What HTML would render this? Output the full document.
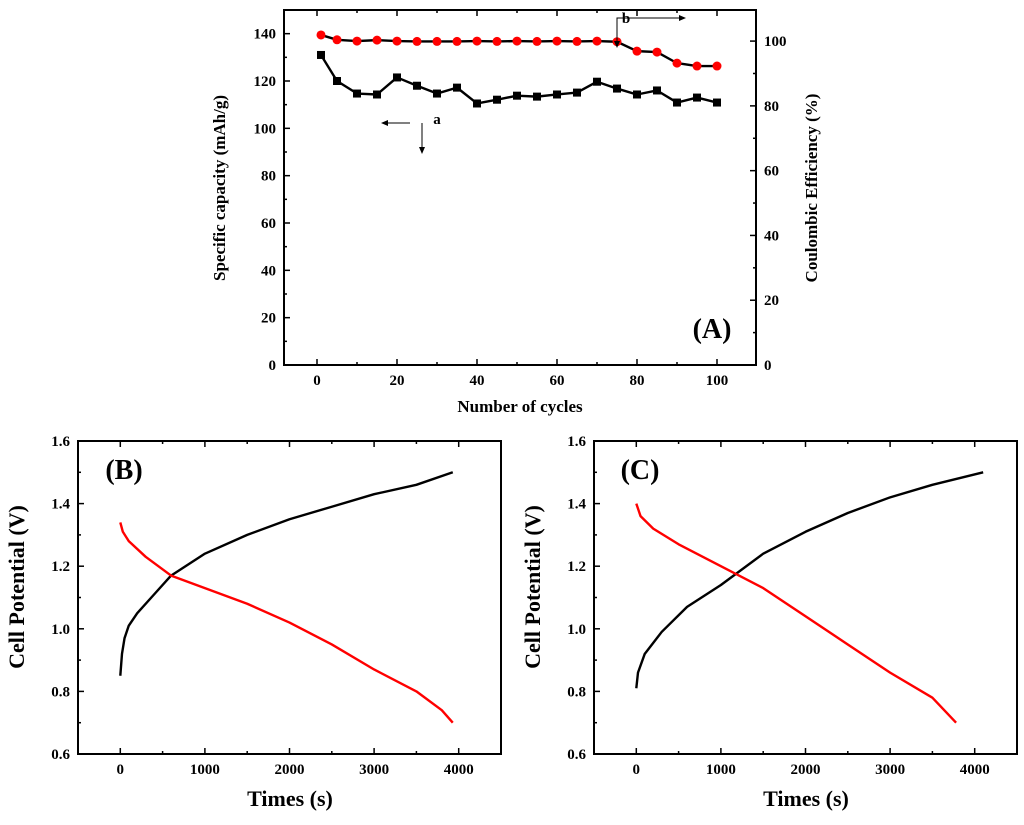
<!DOCTYPE html>
<html><head><meta charset="utf-8"><style>
body{margin:0;background:#fff;width:1024px;height:820px;overflow:hidden}
svg text{font-family:"Liberation Serif",serif;font-weight:bold;fill:#000}
</style></head><body>
<svg id="s" width="1024" height="820"></svg>
<script>
const cyclesA=[1,5,10,15,20,25,30,35,40,45,50,55,60,65,70,75,80,85,90,95,100];
const capacityA=[131,120,114.7,114.3,121.5,118,114.7,117.2,110.5,112.1,113.8,113.4,114.3,115.1,119.7,116.8,114.3,116,110.9,113,110.9];
const efficiencyA=[101.9,100.4,100,100.3,100,99.9,99.9,99.9,100,99.9,100,99.9,100,99.9,100,99.8,96.9,96.6,93.2,92.3,92.3];
const bChargeT=[0,20,50,100,200,400,600,1000,1500,2000,2500,3000,3500,3930];
const bChargeV=[0.85,0.92,0.97,1.01,1.05,1.11,1.17,1.24,1.30,1.35,1.39,1.43,1.46,1.50];
const bDisT=[0,30,100,300,600,1000,1500,2000,2500,3000,3500,3800,3930];
const bDisV=[1.34,1.31,1.28,1.23,1.17,1.13,1.08,1.02,0.95,0.87,0.80,0.74,0.70];
const cChargeT=[0,20,100,300,600,1000,1500,2000,2500,3000,3500,4100];
const cChargeV=[0.81,0.86,0.92,0.99,1.07,1.14,1.24,1.31,1.37,1.42,1.46,1.50];
const cDisT=[0,50,200,500,1000,1500,2000,2500,3000,3500,3780];
const cDisV=[1.40,1.36,1.32,1.27,1.20,1.13,1.04,0.95,0.86,0.78,0.70];
const xTicksA=[0,20,40,60,80,100];
const yTicksA=[0,20,40,60,80,100,120,140];
const yTicksAR=[0,20,40,60,80,100];
const xTicksBC=[0,1000,2000,3000,4000];
const yTicksBC=[0.6,0.8,1.0,1.2,1.4,1.6];

const S=document.getElementById('s');const NS='http://www.w3.org/2000/svg';
function el(t,a,p){const e=document.createElementNS(NS,t);for(const k in a)e.setAttribute(k,a[k]);(p||S).appendChild(e);return e;}
function txt(x,y,s,sz,anchor,rot,name){const e=el('text',{x:x,y:y,'font-size':sz,'text-anchor':anchor||'middle'});if(rot)e.setAttribute('transform','rotate(-90 '+x+' '+y+')');e.textContent=s;


return e;}
function scale(d0,d1,r0,r1){return v=>r0+(v-d0)/(d1-d0)*(r1-r0);}
function box(x0,y0,x1,y1,name){const r=el('rect',{x:x0,y:y0,width:x1-x0,height:y1-y0,fill:'none',stroke:'#000','stroke-width':2});

}
function xaxis(ticks,sx,y0,y1,fmt,name){ticks.forEach((t,i)=>{const x=sx(t);el('line',{x1:x,x2:x,y1:y1,y2:y1-6,stroke:'#000','stroke-width':1.5});el('line',{x1:x,x2:x,y1:y0,y2:y0+6,stroke:'#000','stroke-width':1.5});
txt(x,y1+20,fmt(t),15,'middle',0,name);
if(i<ticks.length-1){const xm=sx((t+ticks[i+1])/2);el('line',{x1:xm,x2:xm,y1:y1,y2:y1-3,stroke:'#000','stroke-width':1.5});el('line',{x1:xm,x2:xm,y1:y0,y2:y0+3,stroke:'#000','stroke-width':1.5});}});}
function yaxis(ticks,sy,x,dir,fmt,name){ticks.forEach((t,i)=>{const y=sy(t);el('line',{x1:x,x2:x+6*dir,y1:y,y2:y,stroke:'#000','stroke-width':1.5});
txt(dir>0?x-8:x+8,y+5,fmt(t),15,dir>0?'end':'start',0,name);
if(i<ticks.length-1){const ym=sy((t+ticks[i+1])/2);el('line',{x1:x,x2:x+3*dir,y1:ym,y2:ym,stroke:'#000','stroke-width':1.5});}});}
function line(xs,ys,sx,sy,col,name){const p=el('polyline',{points:xs.map((v,i)=>sx(v)+','+sy(ys[i])).join(' '),fill:'none',stroke:col,'stroke-width':2.4,'stroke-linejoin':'round'});

}

// Panel A
const ax=scale(-8.25,109.75,284,756), ayL=scale(0,150,365,10), ayR=scale(0,109.6,365,10);
box(284,10,756,365,'panel-a-frame');
xaxis(xTicksA,ax,10,365,String,'x-tick-label-a');
yaxis(yTicksA,ayL,284,1,String,'y-tick-label-a-left');
yaxis(yTicksAR,ayR,756,-1,String,'y-tick-label-a-right');
line(cyclesA,capacityA,ax,ayL,'#000','capacity-line');
line(cyclesA,efficiencyA,ax,ayR,'#000','efficiency-line');
cyclesA.forEach((c,i)=>{const r=el('rect',{x:ax(c)-4,y:ayL(capacityA[i])-4,width:8,height:8,fill:'#000'});


const ci=el('circle',{cx:ax(c),cy:ayR(efficiencyA[i]),r:4.5,fill:'#f00'});

});
txt(520,412,'Number of cycles',17,'middle',0,'x-axis-title-a');
txt(225,188,'Specific capacity (mAh/g)',17,'middle',1,'y-axis-title-a-left');
txt(817,188,'Coulombic Efficiency (%)',17,'middle',1,'y-axis-title-a-right');
txt(712,338,'(A)',28,'middle',0,'panel-label-a');
el('polyline',{points:'410,123 385,123',fill:'none',stroke:'#000','stroke-width':1});
el('polyline',{points:'381,123 388,120 388,126 381,123',fill:'#000'});
el('polyline',{points:'422,123 422,150',fill:'none',stroke:'#000','stroke-width':1});
el('polyline',{points:'422,154 419,147 425,147',fill:'#000'});
txt(437,124,'a',15,'middle',0,'annotation-a');
el('polyline',{points:'617,44 617,18 680,18',fill:'none',stroke:'#000','stroke-width':1});
el('polyline',{points:'617,48 614,41 620,41',fill:'#000'});
el('polyline',{points:'686,18 679,15 679,21',fill:'#000'});
txt(626,23,'b',15,'middle',0,'annotation-b');

function panel(x0,label,tc,vc,td,vd,key){
 const sx=scale(-500,4500,x0,x0+423), sy=scale(0.6,1.6,754,441);
 box(x0,441,x0+423,754,'panel-'+key+'-frame');
 xaxis(xTicksBC,sx,441,754,String,'x-tick-label-'+key);
 yaxis(yTicksBC,sy,x0,1,v=>v.toFixed(1),'y-tick-label-'+key);
 line(tc,vc,sx,sy,'#000','charge-curve-'+key);
 line(td,vd,sx,sy,'#f00','discharge-curve-'+key);
 txt(x0+212,806,'Times (s)',22,'middle',0,'x-axis-title-'+key);
 txt(x0-54,587,'Cell Potential (V)',22,'middle',1,'y-axis-title-'+key);
 txt(x0+46,479,label,28,'middle',0,'panel-label-'+key);
}
panel(78,'(B)',bChargeT,bChargeV,bDisT,bDisV,'b');
panel(594,'(C)',cChargeT,cChargeV,cDisT,cDisV,'c');
</script>
</body></html>
